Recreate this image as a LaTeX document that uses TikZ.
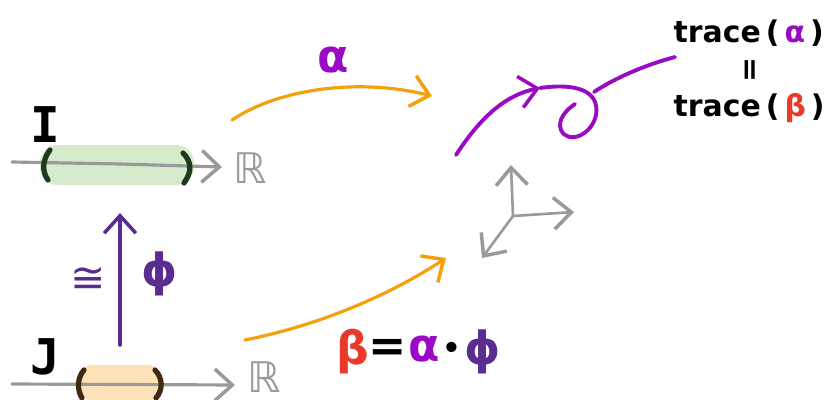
\documentclass[tikz,border=0pt]{standalone}
\usepackage{fontspec}
\setmainfont{DejaVu Sans}
\newfontfamily\monofam{DejaVu Sans Mono}
\usetikzlibrary{arrows.meta}
\definecolor{apurple}{HTML}{9A0AC4}
\definecolor{ppurple}{HTML}{5B2C90}
\definecolor{aorange}{HTML}{F5A00A}
\definecolor{bred}{HTML}{E8392A}
\definecolor{agray}{HTML}{9A9A9A}
\definecolor{gfill}{HTML}{D5EBCB}
\definecolor{ofill}{HTML}{FDE1B7}
\definecolor{gbr}{HTML}{1E3A1E}
\definecolor{obr}{HTML}{3D2A10}
\tikzset{
  tip/.style={-{Straight Barb[length=5pt,width=9pt,line width=1pt]}},
  axisline/.style={agray, line width=0.75pt, line cap=round, tip},
  mapline/.style={aorange, line width=0.9pt, line cap=round, tip},
  lbl/.style={inner sep=0pt, font=\monofam\bfseries\fontsize{14}{16}\selectfont},
  greek/.style={inner sep=0pt, font=\bfseries\fontsize{13}{15}\selectfont},
  trc/.style={inner sep=0pt, font=\bfseries\fontsize{8.5}{10}\selectfont},
  rlabel/.style={inner sep=0pt, agray, font=\fontsize{12}{14}\selectfont},
  bracket/.style={line width=1.5pt, line cap=round}
}
\begin{document}
\begin{tikzpicture}[x=0.01cm, y=-0.01cm]
\useasboundingbox (0,0) rectangle (830,400);
% ---- I interval ----
\fill[gfill, rounded corners=5pt] (40,145) rectangle (194,185);
\draw[agray, line width=0.9pt, line cap=round, tip] (12,162) -- (120,164) -- (222,167);
\draw[bracket, gbr] (50,150) .. controls (42,160) and (42,172) .. (48,180);
\draw[bracket, gbr] (183,153) .. controls (192,162) and (192,172) .. (184,183);
\node[lbl] (I) at (45,125) {I};
\node[rlabel] (R1) at (250,168) {ℝ};
% ---- J interval ----
\fill[ofill, rounded corners=4pt] (78,365) rectangle (162,400);
\draw[agray, line width=0.9pt, line cap=round, tip] (12,384) -- (235,385);
\draw[bracket, obr] (84,370) .. controls (77,378) and (77,390) .. (82,398);
\draw[bracket, obr] (155,370) .. controls (163,378) and (163,390) .. (156,398);
\node[lbl] (J) at (45,357) {J};
\node[rlabel] (R2) at (264,377) {ℝ};
% ---- phi arrow ----
\coordinate (pa) at (120,345);
\coordinate (pb) at (120,213);
\draw[ppurple, line width=1pt, line cap=round, tip] (pa) -- (pb);
\node[inner sep=0pt, ppurple, font=\fontsize{12}{14}\selectfont] (iso) at (88,280) {≅};
\node[greek, ppurple] (phi) at (160,274) {ϕ};
% ---- orange maps ----
\coordinate (a1) at (232,120);
\coordinate (a2) at (432,96);
\draw[mapline] (a1) .. controls (280,88) and (360,78) .. (a2);
\node[greek, apurple] (alpha) at (333,60) {α};
\coordinate (b1) at (245,340);
\coordinate (b2) at (446,258);
\draw[mapline] (b1) .. controls (320,325) and (390,295) .. (b2);
% ---- axes ----
\coordinate (o) at (513,216);
\coordinate (ax) at (574,212);
\coordinate (ay) at (511,165);
\coordinate (az) at (482,258);
\draw[axisline] (o) -- (ax);
\draw[axisline] (o) -- (ay);
\draw[axisline] (o) -- (az);
% ---- purple loop curve ----
\coordinate (c0) at (456,155);
\coordinate (c1) at (540,88);
\coordinate (c2) at (575,104);
\draw[apurple, line width=1.1pt, line cap=round, tip] (c0) .. controls (480,118) and (505,95) .. (c1);
\draw[apurple, line width=1.1pt, line cap=round] (c1) .. controls (575,83) and (600,90) .. (596,115)
   .. controls (592,135) and (568,145) .. (561,130) .. controls (557,120) and (566,110) .. (c2);
\coordinate (d0) at (594,92);
\coordinate (d1) at (675,57);
\draw[apurple, line width=1.1pt, line cap=round] (d0) .. controls (615,78) and (645,65) .. (d1);
% ---- trace text ----
\node[trc, anchor=west] (t1) at (673,33) {trace\,(\,\textcolor{apurple}{α}\,)};
\node[trc] (eq) at (752,70) {\rotatebox{90}{=}};
\node[trc, anchor=west] (t2) at (673,108) {trace\,(\,\textcolor{bred}{β}\,)};
% ---- formula ----
\node[greek, bred] (fb) at (353,352) {β};
\node[greek] (feq) at (388,350) {=};
\node[greek, apurple] (fa) at (424,349) {α};
\node[inner sep=0pt, font=\fontsize{10}{12}\selectfont] (fdot) at (452,351) {•};
\node[greek, ppurple] (fphi) at (483,352) {ϕ};
\end{tikzpicture}
\end{document}
